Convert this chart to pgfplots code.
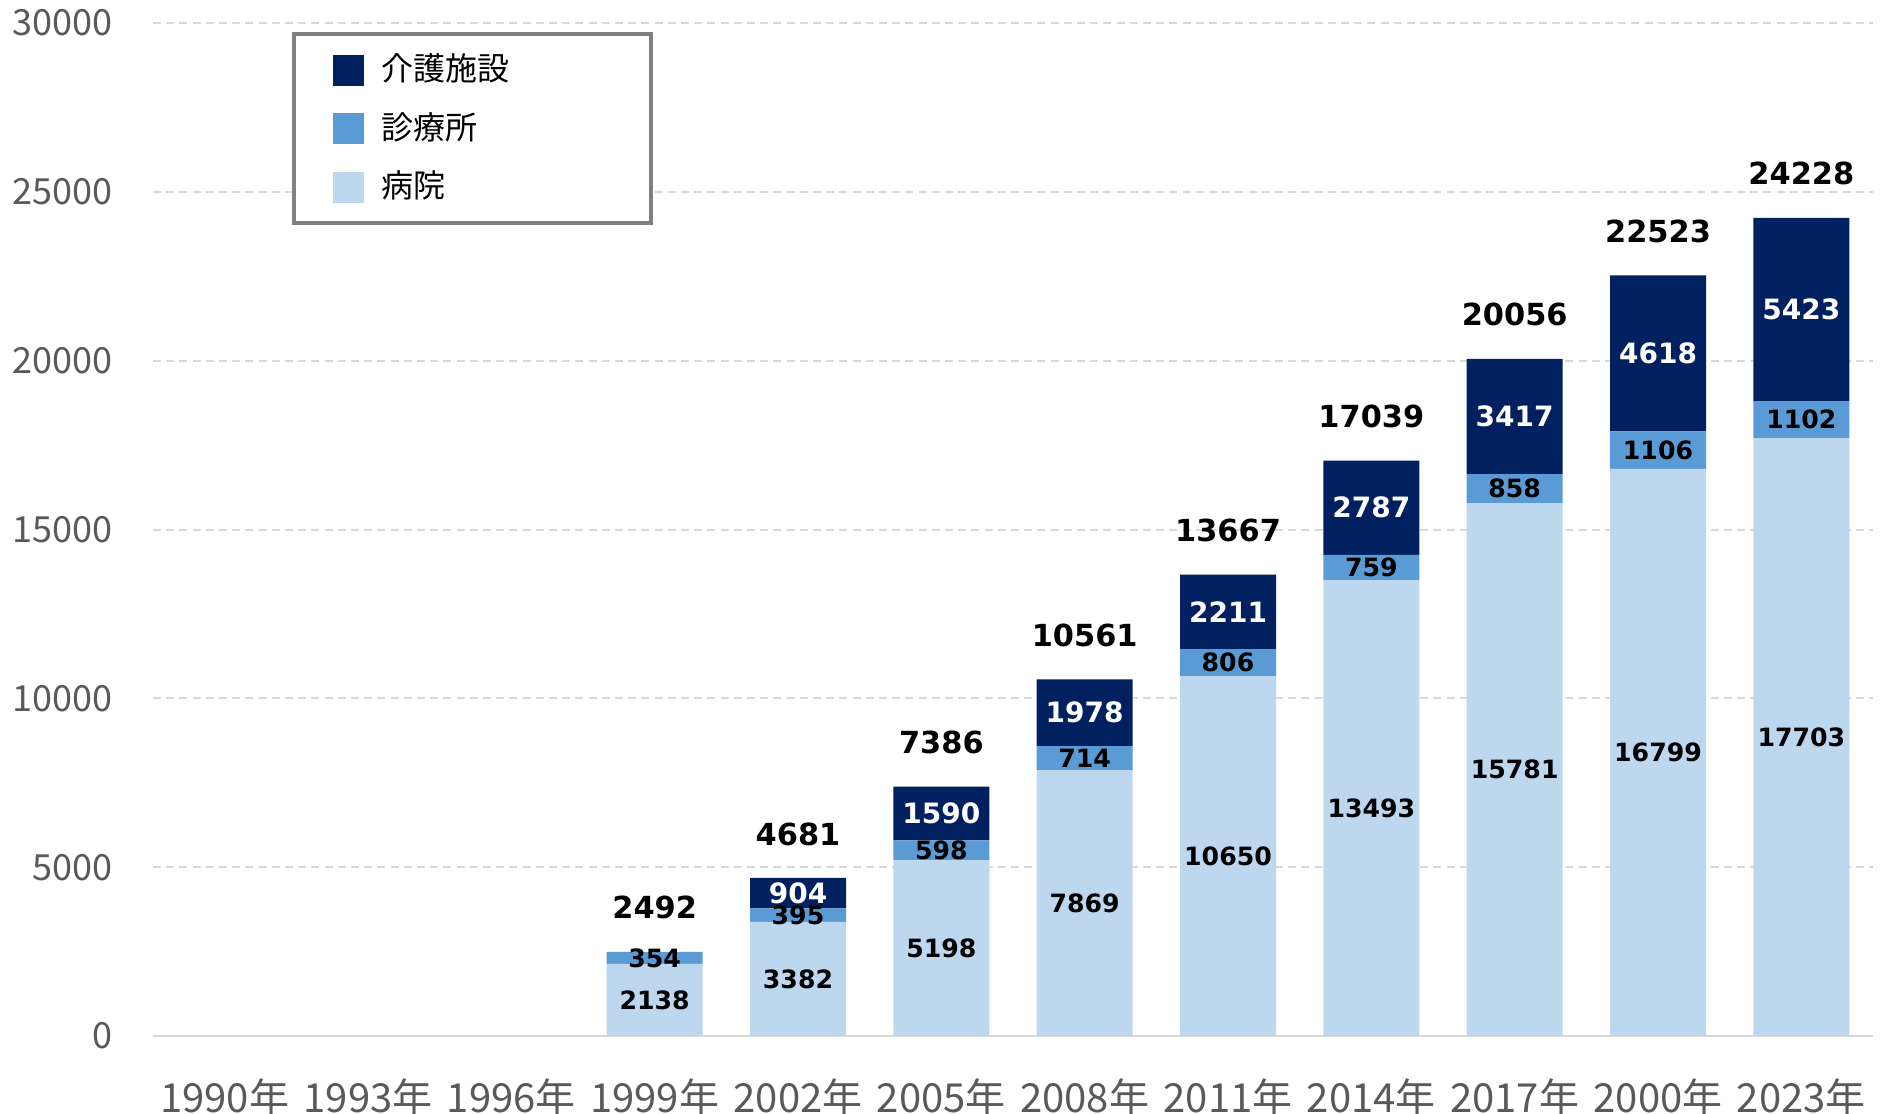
\documentclass[border=0pt]{standalone}
\usepackage{fontspec}
\setmainfont{Noto Sans CJK JP}
\newfontfamily\numfont{DejaVu Sans}
\usepackage{pgfplots}
\usepackage{pgfplotstable}
\pgfplotsset{compat=1.18}
\usetikzlibrary{calc}
\definecolor{care}{HTML}{002060}
\definecolor{clinic}{HTML}{5B9BD5}
\definecolor{hosp}{HTML}{BDD7EE}
\definecolor{ticktext}{HTML}{595959}
\definecolor{gridc}{HTML}{D9D9D9}
\definecolor{legbox}{HTML}{808080}

\pgfplotstableread{
x hosp clinic care total
3 2138 354 0 2492
4 3382 395 904 4681
5 5198 598 1590 7386
6 7869 714 1978 10561
7 10650 806 2211 13667
8 13493 759 2787 17039
9 15781 858 3417 20056
10 16799 1106 4618 22523
11 17703 1102 5423 24228
}\data

\pgfplotsset{
  base/.style={
    width=430pt, height=253.25pt, scale only axis,
    xmin=-0.5, xmax=11.5, ymin=0, ymax=30000,
    enlargelimits=false, clip=false,
  }
}

\begin{document}
\begin{tikzpicture}
\begin{axis}[base,
  ybar stacked, bar width=24pt,
  axis x line*=bottom, axis y line*=left,
  y axis line style={draw=none},
  x axis line style={draw=gridc, line width=0.6pt},
  major tick length=0pt,
  xtick={0,...,11},
  xticklabels={1990年,1993年,1996年,1999年,2002年,2005年,2008年,2011年,2014年,2017年,2000年,2023年},
  ytick={0,5000,...,30000},
  scaled y ticks=false,
  /pgf/number format/.cd, 1000 sep={}, assume math mode=true, /pgfplots/.cd,
  tick label style={text=ticktext},
  yticklabel style={font=\fontsize{9}{10}\selectfont, anchor=east, inner sep=0pt, xshift=-10pt},
  xticklabel style={font=\fontsize{10}{11}\selectfont, anchor=center, yshift=-15.25pt},
  ymajorgrids,
  grid style={draw=gridc, line width=0.5pt, dash pattern=on 2pt off 1.3pt},
  reverse legend,
  legend image code/.code={\fill[#1] (0pt,-3.875pt) rectangle (7.75pt,3.875pt);},
  legend cell align=left,
  legend style={at={(0.0808,0.991)}, anchor=north west, draw=legbox, line width=1pt,
    fill=white, inner xsep=9.8pt, inner ysep=2.9pt, row sep=2.4pt,
    font=\fontsize{8}{9.6}\selectfont,
    /tikz/every odd column/.append style={column sep=2.4pt}},
]
\addplot[fill=hosp, draw=none] table[x=x, y=hosp]{\data};
\addlegendentry{\makebox[55.6pt][l]{病院}}
\addplot[fill=clinic, draw=none] table[x=x, y=clinic]{\data};
\addlegendentry{\makebox[55.6pt][l]{診療所}}
\addplot[fill=care, draw=none] table[x=x, y=care]{\data};
\addlegendentry{\makebox[55.6pt][l]{介護施設}}
\end{axis}
\begin{axis}[base, hide axis,
  point meta=explicit symbolic,
]
\addplot[draw=none, nodes near coords,
  every node near coord/.append style={anchor=center, text=black, font=\numfont\bfseries\fontsize{6.3}{7}\selectfont}]
  table[x=x, y expr=\thisrow{hosp}/2, meta=hosp]{\data};
\addplot[draw=none, nodes near coords,
  every node near coord/.append style={anchor=center, text=black, font=\numfont\bfseries\fontsize{6.3}{7}\selectfont}]
  table[x=x, y expr=\thisrow{hosp}+\thisrow{clinic}/2, meta=clinic]{\data};
\addplot[draw=none, nodes near coords, skip coords between index={0}{1},
  every node near coord/.append style={anchor=center, text=white, font=\numfont\bfseries\fontsize{7}{8}\selectfont}]
  table[x=x, y expr=\thisrow{hosp}+\thisrow{clinic}+\thisrow{care}/2, meta=care]{\data};
\addplot[draw=none, nodes near coords,
  every node near coord/.append style={anchor=center, yshift=11pt, text=black, font=\numfont\bfseries\fontsize{7.6}{9}\selectfont}]
  table[x=x, y=total, meta=total]{\data};
\end{axis}
\pgfresetboundingbox
\path ($(current axis.south west)+(-38.25pt,-19.5pt)$) rectangle ($(current axis.north east)+(3.25pt,5.75pt)$);
\end{tikzpicture}
\end{document}
